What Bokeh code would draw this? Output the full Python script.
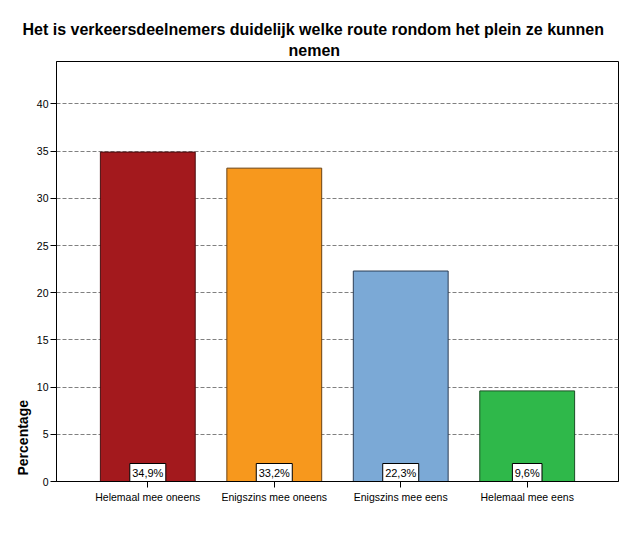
from bokeh.plotting import figure
from bokeh.models import ColumnDataSource, FactorRange, Range1d, FixedTicker, Title
from bokeh.core.properties import value
from bokeh.embed import file_html
from bokeh.resources import INLINE

categories = ["Helemaal mee oneens", "Enigszins mee oneens", "Enigszins mee eens", "Helemaal mee eens"]
percentages = [34.9, 33.2, 22.3, 9.6]
value_labels = ["34,9%", "33,2%", "22,3%", "9,6%"]
bar_colors = ["#A3191D", "#F7981D", "#7BA9D6", "#2FB84A"]
edge_colors = ["#4A0E10", "#6B4212", "#2C3E55", "#1A4F24"]
y_ticks = [0, 5, 10, 15, 20, 25, 30, 35, 40]
title_lines = ["Het is verkeersdeelnemers duidelijk welke route rondom het plein ze kunnen", "nemen"]
y_label = "Percentage"

FONT = "Liberation Sans"
Y_MAX = 44.5
FRAME_H = 420

box_w = [6.4 * len(s) + 4 for s in value_labels]
box_center = 9.0 * Y_MAX / FRAME_H  # 9 px above the zero line

source = ColumnDataSource(dict(cat=categories, pct=percentages, lab=value_labels,
                               fill=bar_colors, edge=edge_colors, bw=box_w,
                               by=[box_center] * len(categories)))

p = figure(width=620, height=533, output_backend="svg", toolbar_location=None,
           x_range=FactorRange(factors=categories, range_padding=0.111),
           y_range=Range1d(0, Y_MAX),
           min_border_left=56, min_border_right=2, min_border_top=61, min_border_bottom=52)

# outer (first) title line
p.title.text = title_lines[0]
p.title.align = "left"
p.title.offset = -34
p.title.text_font = FONT
p.title.text_font_size = "16px"
p.title.text_font_style = "bold"
p.title.text_color = "black"
p.title.standoff = 0
# inner (second) title line
p.add_layout(Title(text=title_lines[1], align="left", offset=232, text_font=FONT, text_font_size="16px",
                   text_font_style="bold", text_color="black", standoff=5, text_line_height=0.8),
             "above")

p.vbar(x="cat", top="pct", width=0.75, source=source, fill_color="fill", line_color="edge", line_width=1)

p.rect(x="cat", y="by", width="bw", height=18, width_units="screen", height_units="screen",
       source=source, fill_color="white", line_color="black", line_width=1)
p.text(x="cat", y="by", text="lab", source=source, text_align="center", text_baseline="middle",
       text_font=value(FONT), text_font_size="11px", text_color="black")

p.outline_line_color = "black"
p.outline_line_width = 1
p.background_fill_color = "white"
p.border_fill_color = "white"

p.xgrid.visible = False
p.ygrid.grid_line_color = "#808080"
p.ygrid.grid_line_dash = "4 2"
p.ygrid.grid_line_width = 1

p.yaxis.ticker = FixedTicker(ticks=y_ticks)
p.yaxis.minor_tick_line_color = None
p.yaxis.major_tick_out = 6
p.yaxis.major_tick_in = 0
p.yaxis.major_label_standoff = 2
p.yaxis.axis_line_color = "black"
p.yaxis.major_label_text_font = FONT
p.yaxis.major_label_text_font_size = "10.5px"
p.yaxis.major_label_text_color = "black"

p.xaxis.major_tick_out = 6
p.xaxis.major_tick_in = 0
p.xaxis.major_label_standoff = 3
p.xaxis.axis_line_color = "black"
p.xaxis.major_label_text_font = FONT
p.xaxis.major_label_text_font_size = "10.5px"
p.xaxis.major_label_text_color = "black"

p.add_layout(Title(text=y_label, align="left", offset=6, text_font=FONT, text_font_size="14px",
                   text_font_style="bold", text_color="black", standoff=6), "left")

open("out.html", "w").write(file_html(p, INLINE))
